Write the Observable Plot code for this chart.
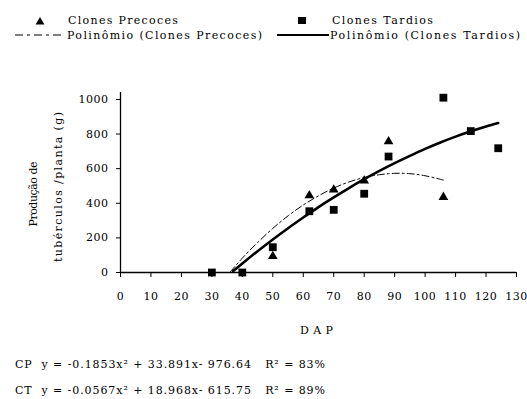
<!DOCTYPE html>
<html><head><meta charset="utf-8">
<script src="https://cdn.jsdelivr.net/npm/d3@7"></script>
<script src="https://cdn.jsdelivr.net/npm/@observablehq/plot@0.6"></script>
<style>
body{margin:0;background:#fff;}
svg, svg text{font-family:"DejaVu Serif", "Liberation Serif", serif !important;}
</style></head>
<body><div id="chart"></div>
<script>
// observed points
const precocesDAP = [50, 62, 70, 80, 88, 106];
const precocesProd = [94, 445, 478, 530, 757, 435];
const tardiosDAP = [30, 40, 50, 62, 70, 80, 88, 106, 115, 124];
const tardiosProd = [0, 0, 146, 354, 362, 455, 670, 1010, 817, 718];
// trend lines
const cpX = [36, 40, 45, 50, 55, 60, 65, 70, 75, 80, 85, 90, 95, 100, 106];
const cpY = [3, 83, 173, 255, 327, 390, 443, 488, 523, 549, 565, 573, 571, 559, 534];
const ctX = [37, 40, 45, 50, 55, 60, 65, 70, 75, 80, 85, 90, 95, 100, 105, 110, 115, 120, 124];
const ctY = [8, 52, 123, 191, 256, 318, 378, 434, 488, 539, 587, 632, 674, 714, 751, 785, 816, 844, 864];
const xTicks = [0,10,20,30,40,50,60,70,80,90,100,110,120,130];
const yTicks = [0,200,400,600,800,1000];

const prec = precocesDAP.map((x,i)=>({x, y: precocesProd[i]}));
const tard = tardiosDAP.map((x,i)=>({x, y: tardiosProd[i]}));
const cp = cpX.map((x,i)=>({x, y: cpY[i]}));
const ct = ctX.map((x,i)=>({x, y: ctY[i]}));

const plot = Plot.plot({
  width: 527, height: 399,
  marginLeft: 120, marginRight: 11, marginTop: 92, marginBottom: 127,
  style: {fontSize: "11px", color: "#000", background: "#fff"},
  x: {domain: [0, 130], ticks: xTicks, label: null},
  y: {domain: [0, 1040], ticks: yTicks, label: null},
  marks: [
    Plot.axisX({ticks: xTicks, tickSize: 5, tickPadding: 15, label: null, fontSize: 11, tickFormat: d => String(d)}),
    Plot.axisY({ticks: yTicks, tickSize: 4, tickPadding: 8, label: null, fontSize: 11, tickFormat: d => String(d)}),
    Plot.ruleY([0], {stroke: "#000", strokeWidth: 1.3}),
    Plot.ruleX([0], {stroke: "#000", strokeWidth: 1.3}),
    Plot.line(ct, {x: "x", y: "y", stroke: "#000", strokeWidth: 2.6, curve: "catmull-rom"}),
    Plot.line(cp, {x: "x", y: "y", stroke: "#000", strokeWidth: 1, strokeDasharray: "7,3,2,3", curve: "catmull-rom"}),
    Plot.dot(tard, {x: "x", y: "y", symbol: "square", fill: "#000", r: 4.4}),
    Plot.dot(prec, {x: "x", y: "y", symbol: "triangle", fill: "#000", r: 3.6})
  ]
});
document.getElementById("chart").appendChild(plot);

const svg = d3.select(plot);
svg.selectAll("g[aria-label='x-axis tick label'] text, g[aria-label='y-axis tick label'] text").attr("letter-spacing", 0.5);
const t = (x, y, s, len, opts={}) => {
  const el = svg.append("text").attr("x", x).attr("y", y)
    .attr("font-size", opts.size || 11)
    .attr("text-anchor", opts.anchor || "start").attr("fill", "#000")
    .attr("transform", opts.rot ? `rotate(-90 ${x} ${y})` : null).text(s);
  if (len) el.attr("textLength", len).attr("lengthAdjust", "spacing");
  return el;
};

// legend
svg.append("path").attr("d", d3.symbol(d3.symbolTriangle, 34)()).attr("transform", "translate(40,22)").attr("fill", "#000");
t(68, 24, "Clones Precoces", 110);
svg.append("rect").attr("x", 298).attr("y", 17).attr("width", 8).attr("height", 7).attr("fill", "#000");
t(332, 24, "Clones Tardios", 101);
svg.append("line").attr("x1", 15).attr("x2", 65).attr("y1", 35).attr("y2", 35).attr("stroke", "#000").attr("stroke-width", 1.2).attr("stroke-dasharray", "8,4,3,4");
t(67, 39, "Polinômio (Clones Precoces)", 195);
svg.append("line").attr("x1", 277).attr("x2", 329).attr("y1", 35).attr("y2", 35).attr("stroke", "#000").attr("stroke-width", 2);
t(330, 39, "Polinômio (Clones Tardios)", 190);

// y label
t(37, 194, "Produção de", 65, {rot: true, anchor: "middle"});
t(62, 187, "tubérculos /planta (g)", 150, {rot: true, anchor: "middle"});
// x label
t(300, 334, "DAP", 33);
// equations
t(15, 368, "CP  y = -0.1853x² + 33.891x- 976.64   R² = 83%", 310);
t(15, 394, "CT  y = -0.0567x² + 18.968x- 615.75   R² = 89%", 310);
</script></body></html>
